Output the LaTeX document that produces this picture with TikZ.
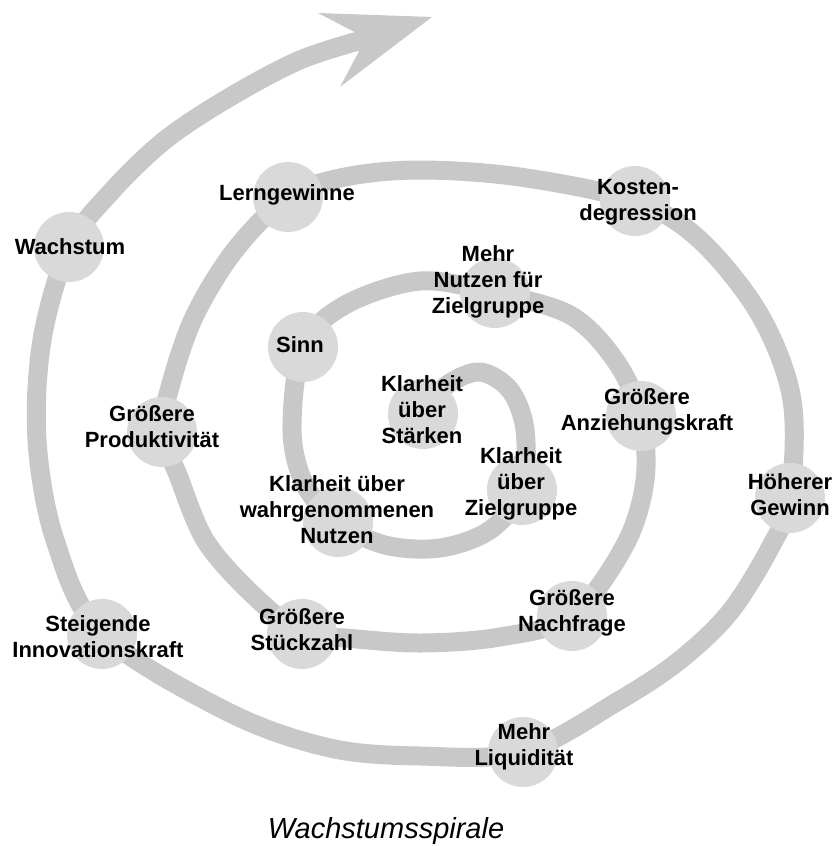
\documentclass[tikz,border=0pt]{standalone}
\usepackage{fontspec}
\setmainfont{Liberation Sans}
\definecolor{band}{RGB}{200,200,200}
\definecolor{circ}{RGB}{217,217,217}
\begin{document}
\begin{tikzpicture}[x=1pt,y=-1pt,
  station/.style={circle,fill=circ,draw=none,minimum size=70pt,inner sep=0pt},
  lbl/.style={font=\bfseries\fontsize{22}{26}\selectfont,align=center,inner sep=0pt,text=black},
  spiral/.style={draw=band,line width=19pt,line cap=round,line join=round}]
\useasboundingbox (0,0) rectangle (837,846);
% station centres
\coordinate (st) at (423,414);
\coordinate (zg) at (522,490);
\coordinate (wn) at (338,522);
\coordinate (si) at (303,347);
\coordinate (nu) at (495,293);
\coordinate (an) at (641,416);
\coordinate (na) at (572,616);
\coordinate (sz) at (302,634);
\coordinate (pr) at (162,432);
\coordinate (le) at (288,197);
\coordinate (ko) at (635,201);
\coordinate (ge) at (790,498);
\coordinate (li) at (523,752);
\coordinate (in) at (102,634);
\coordinate (wa) at (69,247);
\coordinate (notch) at (362,40);
% spiral
\draw[spiral] plot[smooth,tension=0.55] coordinates {
 (st) (447,385) (480,372) (510,390) (525,430) (zg)
 (490,530) (440,548) (385,545) (wn)
 (305,485) (292,430) (si)
 (345,305) (420,281) (nu)
 (570,315) (615,360) (an)
 (645,480) (625,545) (na)
 (500,637) (420,643) (345,638) (sz)
 (250,592) (205,540) (178,475) (pr)
 (172,380) (195,315) (235,250) (le)
 (345,177) (420,170) (520,177) (ko)
 (700,240) (760,315) (792,400) (ge)
 (770,548) (730,612) (680,660) (620,700) (li)
 (420,756) (330,748) (230,713) (in)
 (55,540) (37,440) (42,340) (wa)
 (110,193) (165,140) (230,97) (300,60) (notch)};
\fill[band] (318,13) -- (432,17) -- (340,87) -- (366,38) -- cycle;
% circles
\foreach \n in {st,zg,wn,si,nu,an,na,sz,pr,le,ko,ge,li,in,wa}
  \node[station] (\n C) at (\n) {};
% labels
\node[lbl] (waT) at (70,247) {Wachstum};
\node[lbl] (leT) at (287,195) {Lerngewinne};
\node[lbl] (koT) at (638,202) {Kosten-\\degression};
\node[lbl] (siT) at (300,345) {Sinn};
\node[lbl] (nuT) at (488,282) {Mehr\\Nutzen für\\Zielgruppe};
\node[lbl] (stT) at (422,410) {Klarheit\\über\\Stärken};
\node[lbl] (anT) at (647,412) {Größere\\Anziehungskraft};
\node[lbl] (zgT) at (521,484) {Klarheit\\über\\Zielgruppe};
\node[lbl] (prT) at (152,427) {Größere\\Produktivität};
\node[lbl] (wnT) at (337,510) {Klarheit über\\wahrgenommenen\\Nutzen};
\node[lbl] (geT) at (790,495) {Höherer\\Gewinn};
\node[lbl] (naT) at (572,613) {Größere\\Nachfrage};
\node[lbl] (szT) at (302,630) {Größere\\Stückzahl};
\node[lbl] (inT) at (98,637) {Steigende\\Innovationskraft};
\node[lbl] (liT) at (524,747) {Mehr\\Liquidität};
\node[font=\itshape\fontsize{29}{35}\selectfont,anchor=base,inner sep=0pt] (cap) at (386,838) {Wachstumsspirale};
\end{tikzpicture}
\end{document}
